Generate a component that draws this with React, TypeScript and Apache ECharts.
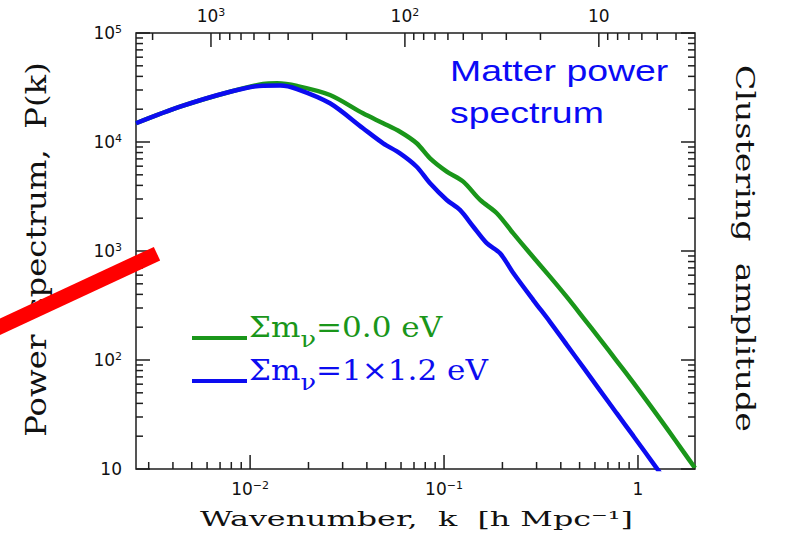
import React, { useEffect, useRef } from "react";
import * as echarts from "echarts";

// Plot ranges (k in h/Mpc, P(k) in (Mpc/h)^3)
const K_MIN = 0.00258;
const K_MAX = 1.968;
const P_MIN = 10;
const P_MAX = 1e5;
const TWO_PI = 2 * Math.PI;

// Σmν = 0.0 eV
const kNoNu = [
  0.00258, 0.004355, 0.00789, 0.01167, 0.01377, 0.01746, 0.02582, 0.03819,
  0.04853, 0.05929, 0.07228, 0.08472, 0.1033, 0.1256, 0.1535, 0.1871, 0.2275,
  0.2773, 0.3516, 0.4285, 0.5224, 0.6368, 0.7762, 0.9462, 1.153, 1.406, 1.71,
  1.968,
];
const pNoNu = [
  14860, 21090, 28910, 34040, 34510, 32660, 26980, 18320, 14860, 12420, 9730,
  7080, 5350, 4330, 2940, 2220, 1450, 953, 582, 381, 244, 155.6, 98.4, 61.9,
  38.5, 23.7, 14.5, 10.2,
];

// Σmν = 1×1.2 eV
const kNu = [
  0.00258, 0.004355, 0.00789, 0.01167, 0.01429, 0.01746, 0.02582, 0.03819,
  0.04853, 0.05929, 0.07228, 0.08472, 0.1033, 0.1208, 0.1416, 0.166, 0.1945,
  0.2275, 0.2884, 0.3516, 0.4285, 0.5224, 0.6368, 0.7762, 0.9462, 1.248, 1.35,
];
const pNu = [
  14860, 21090, 28910, 32890, 32960, 30620, 22650, 13370, 9730, 7870, 5930,
  4180, 2940, 2380, 1670, 1180, 953, 628, 355, 224, 138.4, 85.5, 52.7, 32.5,
  20.1, 10.2, 8.3,
];

const seriesNames = ["Σmν=0.0 eV", "Σmν=1×1.2 eV"];
const seriesColors = ["#1a961a", "#0c0cf0"];
const legendTexts = ["{t|Σm}{s|ν}{t|=0.0 eV}", "{t|Σm}{s|ν}{t|=1×1.2 eV}"];

const xTitle = "Wavenumber,  k  [h Mpc⁻¹]";
const yTitle = "Power  spectrum,  P(k)";
const y2Title = "Clustering  amplitude";
const noteLines = ["Matter power", "spectrum"];

const AXIS_COLOR = "#1e1e1e";
const TEXT_COLOR = "#111";
const SERIF = "DejaVu Serif";
const MAJOR_LEN = 14;
const MINOR_LEN = 7;

// "10^n" style labels for log axes; non-decade values stay blank
function powerLabel(v: number): string {
  const lg = Math.log10(v);
  const e = Math.round(lg);
  if (Math.abs(lg - e) > 1e-6) return "";
  if (e === 0) return "1";
  if (e === 1) return "10";
  return "10{sup|" + (e < 0 ? "−" + -e : String(e)) + "}";
}

// 1..9 × 10^d tick positions inside [lo, hi]
function decadeTicks(lo: number, hi: number) {
  const out: { v: number; major: boolean }[] = [];
  for (let d = Math.floor(Math.log10(lo)); d <= Math.ceil(Math.log10(hi)); d++) {
    for (let m = 1; m <= 9; m++) {
      const v = m * Math.pow(10, d);
      if (v >= lo * 0.9999 && v <= hi * 1.0001) out.push({ v, major: m === 1 });
    }
  }
  return out;
}

const kTicks = decadeTicks(K_MIN, K_MAX);
const pTicks = decadeTicks(P_MIN, P_MAX);
const lambdaTicks = decadeTicks(TWO_PI / K_MAX, TWO_PI / K_MIN);
const tickLen = (t: { major: boolean }) => (t.major ? MAJOR_LEN : MINOR_LEN);

// [x, y, length, side]  side: 0 bottom, 1 left, 2 right, 3 top
const frameTicks = [
  ...kTicks.map((t) => [t.v, P_MIN, tickLen(t), 0]),
  ...pTicks.map((t) => [K_MIN, t.v, tickLen(t), 1]),
  ...pTicks.map((t) => [K_MAX, t.v, tickLen(t), 2]),
];
const topTicks = lambdaTicks.map((t) => [t.v, P_MAX, tickLen(t), 3]);

const TICK_DIRS = [
  [0, -1],
  [1, 0],
  [-1, 0],
  [0, 1],
];

function renderTick(_params: any, api: any) {
  const p = api.coord([api.value(0), api.value(1)]);
  const len = api.value(2);
  const d = TICK_DIRS[api.value(3)];
  return {
    type: "line",
    shape: { x1: p[0], y1: p[1], x2: p[0] + d[0] * len, y2: p[1] + d[1] * len },
    style: { stroke: AXIS_COLOR, lineWidth: 1.5 },
  };
}

function tickLabelStyle(margin: number) {
  return {
    formatter: powerLabel,
    margin,
    color: TEXT_COLOR,
    fontFamily: "DejaVu Sans",
    fontSize: 17,
    lineHeight: 18,
    rich: {
      sup: {
        fontFamily: "DejaVu Sans",
        fontSize: 11,
        lineHeight: 11,
        verticalAlign: "top",
        color: TEXT_COLOR,
      },
    },
  };
}

const hiddenAxisParts = {
  axisLine: { show: false, onZero: false },
  axisTick: { show: false },
  splitLine: { show: false },
  minorTick: { show: false },
};

// width of a string in a given font, used to stretch titles to their span
let measureCtx: CanvasRenderingContext2D | null = null;
function textWidth(text: string, size: number, family: string) {
  if (!measureCtx) measureCtx = document.createElement("canvas").getContext("2d");
  if (!measureCtx) return text.length * size * 0.6;
  measureCtx.font = `${size}px "${family}"`;
  return measureCtx.measureText(text).width;
}

// title text stretched along its run to `span` px, with `thick` extra glyph height
function titleText(
  text: string,
  cx: number,
  cy: number,
  rotation: number,
  size: number,
  span: number,
  thick: number
) {
  return {
    type: "text",
    x: cx,
    y: cy,
    rotation,
    scaleX: span / textWidth(text, size, SERIF),
    scaleY: thick,
    z: 10,
    style: {
      text,
      fontFamily: SERIF,
      fontSize: size,
      fill: TEXT_COLOR,
      align: "center",
      verticalAlign: "middle",
    },
  };
}

function buildOption() {
  const legendRows = [0, 1].map((i) => {
    const yLine = [338, 381][i];
    return [
      {
        type: "line",
        z: 20,
        shape: { x1: 192, y1: yLine, x2: 247, y2: yLine },
        style: { stroke: seriesColors[i], lineWidth: 4 },
      },
      {
        type: "text",
        z: 20,
        x: 249,
        y: yLine - 24,
        scaleX: 1.11,
        style: {
          text: legendTexts[i],
          align: "left",
          verticalAlign: "top",
          fill: seriesColors[i],
          rich: {
            t: {
              fontFamily: SERIF,
              fontSize: 28,
              verticalAlign: "top",
              fill: seriesColors[i],
            },
            // subscript: pushed below the baseline with top padding
            s: {
              fontFamily: SERIF,
              fontSize: 23,
              verticalAlign: "top",
              padding: [13, 0, 0, 0],
              fill: seriesColors[i],
            },
          },
        },
      },
    ];
  });

  return {
    animation: false,
    backgroundColor: "#ffffff",
    grid: {
      left: 136,
      right: 90,
      top: 33,
      bottom: 89,
      show: true,
      borderColor: AXIS_COLOR,
      borderWidth: 1.5,
      backgroundColor: "transparent",
    },
    xAxis: [
      {
        type: "log",
        logBase: 10,
        min: K_MIN,
        max: K_MAX,
        position: "bottom",
        ...hiddenAxisParts,
        axisLabel: tickLabelStyle(11),
      },
      {
        type: "log",
        logBase: 10,
        inverse: true,
        min: TWO_PI / K_MAX,
        max: TWO_PI / K_MIN,
        position: "top",
        ...hiddenAxisParts,
        axisLabel: tickLabelStyle(8),
      },
    ],
    yAxis: [
      {
        type: "log",
        logBase: 10,
        min: P_MIN,
        max: P_MAX,
        position: "left",
        ...hiddenAxisParts,
        axisLabel: tickLabelStyle(14),
      },
    ],
    series: [
      {
        type: "line",
        name: seriesNames[0],
        xAxisIndex: 0,
        yAxisIndex: 0,
        data: kNoNu.map((k, i) => [k, pNoNu[i]]),
        showSymbol: false,
        smooth: 0.3,
        lineStyle: { color: seriesColors[0], width: 4.5 },
        itemStyle: { color: seriesColors[0] },
        z: 3,
      },
      {
        type: "line",
        name: seriesNames[1],
        xAxisIndex: 0,
        yAxisIndex: 0,
        data: kNu.map((k, i) => [k, pNu[i]]),
        showSymbol: false,
        smooth: 0.3,
        lineStyle: { color: seriesColors[1], width: 4.5 },
        itemStyle: { color: seriesColors[1] },
        z: 4,
      },
      {
        type: "custom",
        xAxisIndex: 0,
        yAxisIndex: 0,
        data: frameTicks,
        renderItem: renderTick,
        silent: true,
        z: 6,
      },
      {
        type: "custom",
        xAxisIndex: 1,
        yAxisIndex: 0,
        data: topTicks,
        renderItem: renderTick,
        silent: true,
        z: 6,
      },
    ],
    graphic: [
      titleText(xTitle, 416.5, 519, 0, 21, 433, 1),
      titleText(yTitle, 36.5, 249.5, Math.PI / 2, 23, 375, 1.22),
      titleText(y2Title, 745, 248.5, -Math.PI / 2, 23, 367, 1.15),
      ...noteLines.map((line, i) => ({
        type: "text",
        x: 450,
        y: [71.5, 113][i],
        scaleX: 1.29,
        z: 20,
        style: {
          text: line,
          fontFamily: "Liberation Sans",
          fontSize: 29,
          fill: "#0a0af5",
          align: "left",
          verticalAlign: "middle",
        },
      })),
      ...legendRows.flat(),
      {
        type: "line",
        z: 100,
        shape: { x1: -20, y1: 336, x2: 157, y2: 253.7 },
        style: { stroke: "#ff0000", lineWidth: 15, lineCap: "butt" },
      },
    ],
  };
}

export default function App() {
  const ref = useRef<HTMLDivElement>(null);
  useEffect(() => {
    if (!ref.current) return;
    const chart = echarts.init(ref.current, undefined, { renderer: "svg" });
    chart.setOption(buildOption() as any);
    return () => chart.dispose();
  }, []);
  return (
    <div
      ref={ref}
      style={{ position: "fixed", left: 0, top: 0, width: 785, height: 558, background: "#fff" }}
    />
  );
}
